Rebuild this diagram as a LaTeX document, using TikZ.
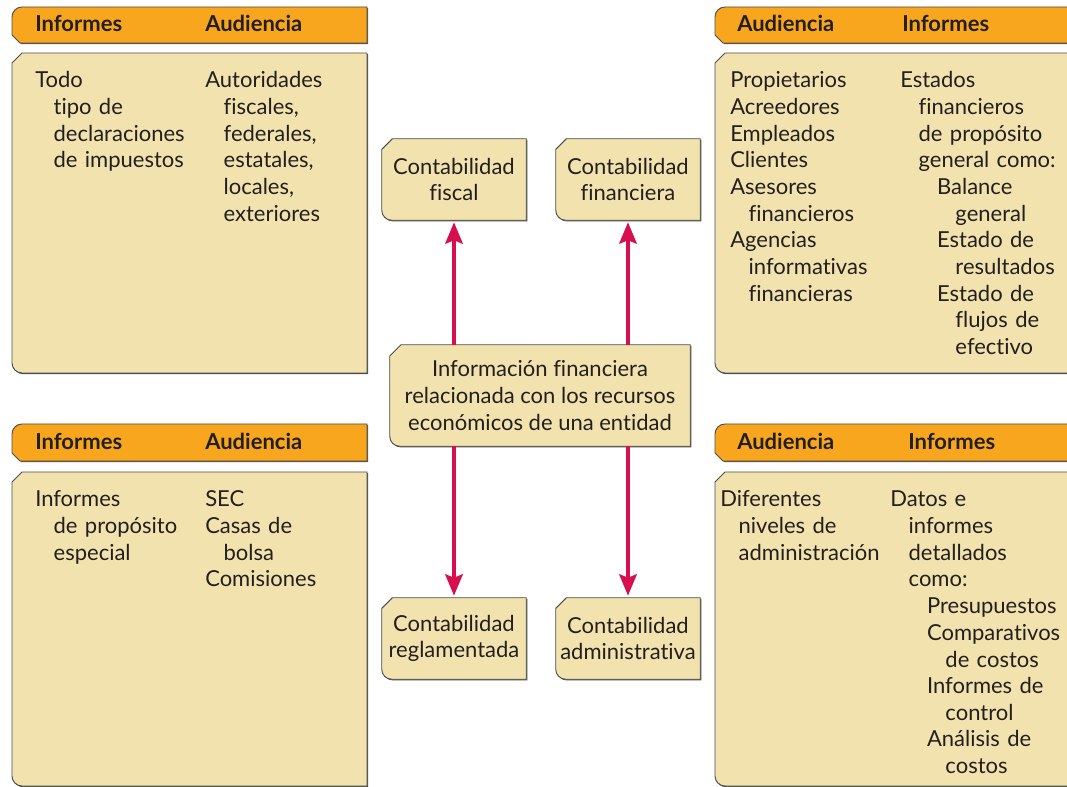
\documentclass[tikz,border=0pt]{standalone}
\usepackage{fontspec}
\setmainfont{Lato}[Ligatures=NoCommon]
\usetikzlibrary{calc,arrows.meta,backgrounds}
\definecolor{hdrfill}{RGB}{247,166,30}
\definecolor{cardfill}{RGB}{242,227,174}
\definecolor{edgegray}{RGB}{77,77,77}
\definecolor{arrowred}{RGB}{216,15,78}
\definecolor{ink}{RGB}{35,31,32}
% card: top-left chamfer, bottom-left rounded, right square
\newcommand\cardpath[5]{(#1+#5,#2) -- (#3,#2) -- (#3,#4) -- (#1+7.5pt,#4) .. controls (#1+3.36pt,#4) and (#1,#4+3.36pt) .. (#1,#4+7.5pt) -- (#1,#2-#5) -- cycle}
% header: top-left rounded, bottom-left chamfer
\newcommand\hdrpath[4]{(#1+7.5pt,#2) -- (#3,#2) -- (#3,#4) -- (#1+6pt,#4) -- (#1,#4+6pt) -- (#1,#2-7.5pt) .. controls (#1,#2-3.36pt) and (#1+3.36pt,#2) .. (#1+7.5pt,#2) -- cycle}
\newcommand\mycard[3][7.5pt]{%
  \fill[edgegray] let \p1=(#2),\p2=(#3) in \cardpath{\x1+0.9pt}{\y1-0.9pt}{\x2+0.9pt}{\y2-0.9pt}{#1};
  \filldraw[fill=cardfill,draw=edgegray,line width=0.7pt] let \p1=(#2),\p2=(#3) in \cardpath{\x1}{\y1}{\x2}{\y2}{#1};}
\newcommand\myhdr[2]{%
  \fill[edgegray!80!brown] let \p1=(#1),\p2=(#2) in \hdrpath{\x1+0.9pt}{\y1-0.9pt}{\x2+0.9pt}{\y2-0.9pt};
  \filldraw[fill=hdrfill,draw=edgegray,line width=0.7pt] let \p1=(#1),\p2=(#2) in \hdrpath{\x1}{\y1}{\x2}{\y2};}
\newcommand\ia{\hspace*{13.8pt}}
\newcommand\ib{\hspace*{27.6pt}}
\newcommand\ic{\hspace*{41.4pt}}
\begin{document}
\begin{tikzpicture}[x=0.75pt,y=-0.75pt,
  bodyfont/.style={font=\fontsize{16.5pt}{20pt}\selectfont, text=ink},
  hdrtext/.style={anchor=base west, inner sep=0pt, font=\bfseries\fontsize{16.5pt}{20pt}\selectfont, text=ink},
  coltext/.style={bodyfont, anchor=base west, inner sep=0pt, text width=155pt, align=left},
  acct/.style={bodyfont, inner sep=0pt, align=center, minimum width=108pt, minimum height=60.75pt},
  hub/.style={bodyfont, inner sep=0pt, align=center, minimum width=225pt, minimum height=75.75pt},
  conn/.style={draw=arrowred, line width=3pt, -{Stealth[length=16pt,width=13pt,inset=2.5pt]}, shorten >=1.5pt}]
\clip (0,0) rectangle (1067,787);
% panels
\myhdr{12,7}{367,43}
\mycard{12,53}{367,373}
\myhdr{715,7}{1090,43}
\mycard{715,53}{1090,373}
\myhdr{12,424}{367,461}
\mycard{12,472}{367,786}
\myhdr{715,424}{1090,461}
\mycard{715,472}{1090,786}
% headers
\node[hdrtext] (h1a) at (35,32) {Informes};
\node[hdrtext] (h1b) at (205,32) {Audiencia};
\node[hdrtext] (h2a) at (737,32) {Audiencia};
\node[hdrtext] (h2b) at (902,32) {Informes};
\node[hdrtext] (h3a) at (35,449.5) {Informes};
\node[hdrtext] (h3b) at (205,449.5) {Audiencia};
\node[hdrtext] (h4a) at (737,449.5) {Audiencia};
\node[hdrtext] (h4b) at (908,449.5) {Informes};
% columns
\node[coltext] (c1a) at (35,88) {Todo\\ \ia tipo de\\ \ia declaraciones\\ \ia de impuestos};
\node[coltext] (c1b) at (205,88) {Autoridades\\ \ia fiscales,\\ \ia federales,\\ \ia estatales,\\ \ia locales,\\ \ia exteriores};
\node[coltext] (c2a) at (730,88) {Propietarios\\ Acreedores\\ Empleados\\ Clientes\\ Asesores\\ \ia financieros\\ Agencias\\ \ia informativas\\ \ia financieras};
\node[coltext] (c2b) at (900,88) {Estados\\ \ia financieros\\ \ia de propósito\\ \ia general como:\\ \ib Balance\\ \ic general\\ \ib Estado de\\ \ic resultados\\ \ib Estado de\\ \ic flujos de\\ \ic efectivo};
\node[coltext] (c3a) at (35,507) {Informes\\ \ia de propósito\\ \ia especial};
\node[coltext] (c3b) at (205,507) {SEC\\ Casas de\\ \ia bolsa\\ Comisiones};
\node[coltext] (c4a) at (720,507) {Diferentes\\ \ia niveles de\\ \ia administración};
\node[coltext] (c4b) at (890,507) {Datos e\\ \ia informes\\ \ia detallados\\ \ia como:\\ \ib Presupuestos\\ \ib Comparativos\\ \ic de costos\\ \ib Informes de\\ \ic control\\ \ib Análisis de\\ \ic costos};
% graph nodes
\node[acct] (fiscal) at (454,179.5) {Contabilidad\\fiscal};
\node[acct] (financiera) at (628,179.5) {Contabilidad\\financiera};
\node[hub] (hub) at (540,395.5) {Información financiera\\relacionada con los recursos\\económicos de una entidad};
\node[acct] (reglamentada) at (454,638.5) {Contabilidad\\reglamentada};
\node[acct] (administrativa) at (628,638.5) {Contabilidad\\administrativa};
\begin{scope}[on background layer]
\mycard[8pt]{fiscal.north west}{fiscal.south east}
\mycard[8pt]{financiera.north west}{financiera.south east}
\mycard[8.5pt]{hub.north west}{hub.south east}
\mycard[8pt]{reglamentada.north west}{reglamentada.south east}
\mycard[8pt]{administrativa.north west}{administrativa.south east}
\end{scope}
% connectors
\draw[conn] (fiscal.south |- hub.north) -- (fiscal.south);
\draw[conn] (financiera.south |- hub.north) -- (financiera.south);
\draw[conn] (reglamentada.north |- hub.south) -- (reglamentada.north);
\draw[conn] (administrativa.north |- hub.south) -- (administrativa.north);
\end{tikzpicture}
\end{document}
